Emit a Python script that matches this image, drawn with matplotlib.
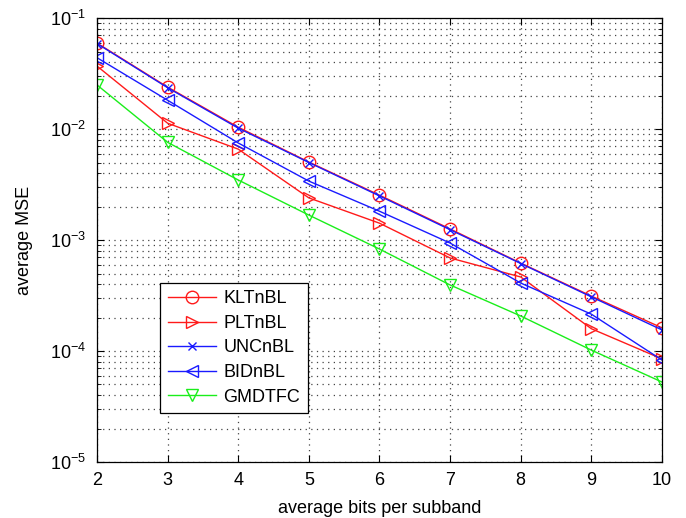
import numpy as np
import matplotlib
matplotlib.use('Agg')
import matplotlib.pyplot as plt
from matplotlib.ticker import LogLocator, FixedLocator

plt.rcParams['font.family'] = ['Liberation Sans', 'DejaVu Sans']
plt.rcParams['mathtext.fontset'] = 'custom'
plt.rcParams['mathtext.rm'] = 'Liberation Sans'
plt.rcParams['mathtext.it'] = 'Liberation Sans:italic'

bits = [2, 3, 4, 5, 6, 7, 8, 9, 10]
kltnbl = [0.0596, 0.0239, 0.0104, 0.00505, 0.00254, 0.00126, 0.00062, 0.000313, 0.000162]
pltnbl = [0.037, 0.0113, 0.0066, 0.0024, 0.00142, 0.00069, 0.000465, 0.000159, 0.000085]
uncnbl = [0.0590, 0.0236, 0.0102, 0.00500, 0.00250, 0.00124, 0.000615, 0.000308, 0.000155]
bidnbl = [0.044, 0.0182, 0.0075, 0.0034, 0.00182, 0.00094, 0.00041, 0.000215, 0.000083]
gmdtfc = [0.025, 0.0076, 0.00348, 0.00168, 0.00083, 0.000394, 0.000207, 0.000102, 0.0000526]

red = '#ff1a1a'
blue = '#1a1aff'
green = '#1aee1a'

fig = plt.figure(figsize=(6.86, 5.18), dpi=100)
ax = fig.add_axes([0.1414, 0.108, 0.8236, 0.857])

ms = 9
ax.semilogy(bits, kltnbl, color=red, marker='o', ms=ms, mfc='none', lw=1, label='KLTnBL')
ax.semilogy(bits, pltnbl, color=red, marker='>', ms=ms, mfc='none', lw=1, label='PLTnBL')
ax.semilogy(bits, uncnbl, color=blue, marker='x', ms=6, mfc='none', lw=1, label='UNCnBL')
ax.semilogy(bits, bidnbl, color=blue, marker='<', ms=ms, mfc='none', lw=1, label='BIDnBL')
ax.semilogy(bits, gmdtfc, color=green, marker='v', ms=ms, mfc='none', lw=1, label='GMDTFC')

ax.set_xlim(2, 10)
ax.set_ylim(1e-5, 1e-1)
ax.xaxis.set_major_locator(FixedLocator(bits))
ax.yaxis.set_major_locator(LogLocator(base=10, numticks=10))
ax.yaxis.set_minor_locator(LogLocator(base=10, subs=np.arange(2, 10), numticks=10))
ax.yaxis.set_minor_formatter(plt.NullFormatter())

dots = (0, (1, 3.5))
ax.grid(True, which='major', linestyle=dots, color='#444444', lw=0.9)
ax.grid(True, which='minor', axis='y', linestyle=dots, color='#444444', lw=0.9)
ax.set_axisbelow(True)
ax.tick_params(which='both', direction='in', top=True, right=True, labelsize=13)
ax.tick_params(which='major', length=5)
ax.tick_params(which='minor', length=3)
ax.tick_params(axis='x', pad=7)
ax.tick_params(axis='y', pad=8)
for s in ax.spines.values():
    s.set_linewidth(0.9)

ax.set_xlabel('average bits per subband', fontsize=13, labelpad=8)
ax.set_ylabel('average MSE', fontsize=13, labelpad=12)

leg = ax.legend(loc='lower left', bbox_to_anchor=(0.1115, 0.110), borderaxespad=0,
                fontsize=13, fancybox=False, edgecolor='black', framealpha=1,
                handlelength=2.7, handletextpad=0.4, labelspacing=0.42, borderpad=0.42)
leg.get_frame().set_linewidth(0.9)

fig.savefig('out.png', dpi=100)
